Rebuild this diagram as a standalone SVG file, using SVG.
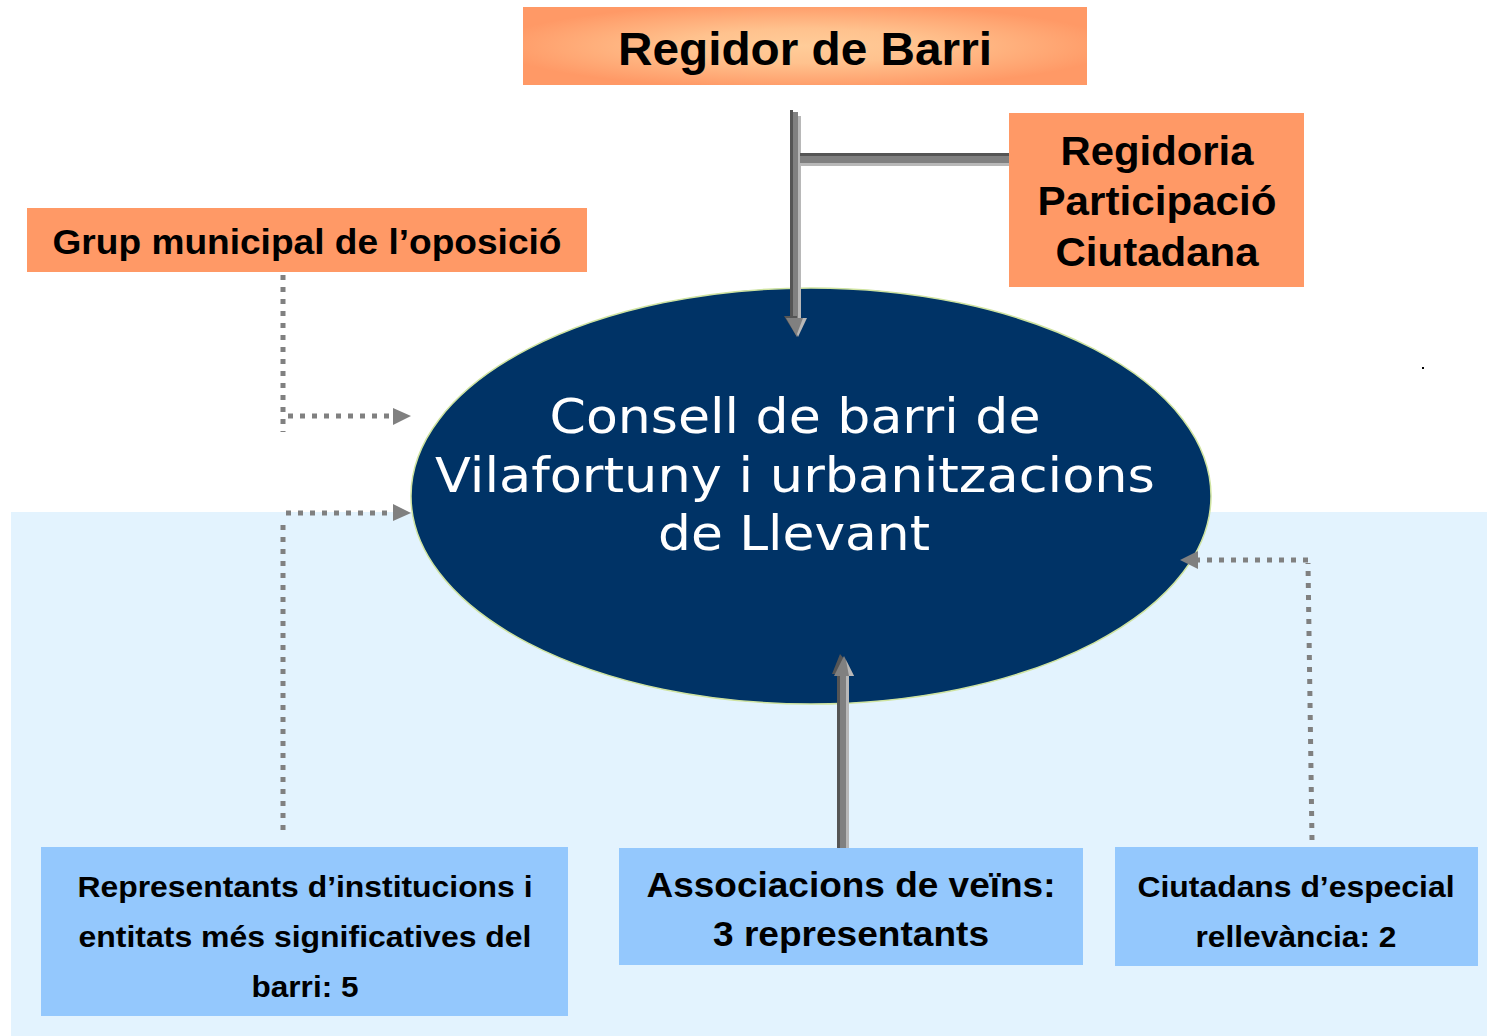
<svg xmlns="http://www.w3.org/2000/svg" width="1487" height="1036" viewBox="0 0 1487 1036">
<defs>
<radialGradient id="gOrange" cx="50%" cy="50%" r="55%">
<stop offset="0" stop-color="#FFCC99"/>
<stop offset="0.4" stop-color="#FFC28E"/>
<stop offset="1" stop-color="#FF9966"/>
</radialGradient>
</defs>
<style>
.orange{fill:#FF9966;}
.blue{fill:#94C8FD;}
.t{font-family:"Liberation Sans",Arial,sans-serif;font-weight:bold;fill:#000;text-anchor:middle;}
.e{font-family:"DejaVu Sans","Liberation Sans",sans-serif;fill:#FFFFFF;text-anchor:middle;}
.dot{fill:none;stroke:#808080;stroke-width:5;stroke-dasharray:5 7;}
.dk{fill:#555555;}
.md{fill:#808080;}
.lt{fill:#B8B8B8;}
</style>
<rect x="0" y="0" width="1487" height="1036" fill="#FFFFFF"/>
<rect x="11" y="512" width="1476" height="524" fill="#E3F3FE"/>
<rect x="1422" y="367" width="2" height="2" fill="#000000"/>

<g id="node-consell">
<ellipse cx="811" cy="496" rx="400" ry="208" fill="#003366" stroke="#CFE3A0" stroke-width="1.5"/>
<text class="e" x="795" y="433" font-size="48" textLength="491" lengthAdjust="spacingAndGlyphs">Consell de barri de</text>
<text class="e" x="795" y="492" font-size="48" textLength="720" lengthAdjust="spacingAndGlyphs">Vilafortuny i urbanitzacions</text>
<text class="e" x="794" y="550" font-size="48" textLength="272" lengthAdjust="spacingAndGlyphs">de Llevant</text>
</g>

<g id="connectors">
<rect class="dk" x="790" y="110" width="3" height="210"/>
<rect class="md" x="793" y="112" width="5" height="208"/>
<rect class="lt" x="798" y="116" width="3" height="204"/>
<polygon class="dk" points="784,316 797,316 797,337"/>
<polygon class="md" points="786,318 806,318 797,337"/>
<polygon class="lt" points="803,318 807,318 798,337 797,334"/>
<rect class="dk" x="800" y="153" width="209" height="3"/>
<rect class="md" x="800" y="156" width="209" height="7"/>
<rect class="lt" x="800" y="163" width="209" height="3"/>
<rect class="dk" x="837" y="674" width="3" height="174"/>
<rect class="md" x="840" y="674" width="6" height="174"/>
<rect class="lt" x="846" y="674" width="3" height="174"/>
<polygon class="dk" points="832,674 840,654 845,660 836,674"/>
<polygon class="md" points="834,676 854,676 844,656"/>
<polygon class="lt" points="849,676 854,676 846,660"/>
<path class="dot" d="M283,275 L283,432"/>
<path class="dot" d="M288,416 L393,416"/>
<path d="M393,408 L411,416 L393,425 Z" fill="#808080"/>
<path class="dot" d="M283,830 L283,525"/>
<path class="dot" d="M286,513 L393,513"/>
<path d="M393,504 L411,513 L393,521 Z" fill="#808080"/>
<path class="dot" d="M1312,840 L1308,563"/>
<path class="dot" d="M1308,560 L1198,560"/>
<path d="M1198,551 L1180,560 L1198,569 Z" fill="#808080"/>
</g>

<g id="node-regidor">
<rect x="523" y="7" width="564" height="78" fill="url(#gOrange)"/>
<text class="t" x="805" y="65" font-size="47" textLength="374" lengthAdjust="spacingAndGlyphs">Regidor de Barri</text>
</g>

<g id="node-regidoria">
<rect class="orange" x="1009" y="113" width="295" height="174"/>
<text class="t" x="1157" y="165" font-size="40" textLength="193" lengthAdjust="spacingAndGlyphs">Regidoria</text>
<text class="t" x="1157" y="215" font-size="40" textLength="239" lengthAdjust="spacingAndGlyphs">Participació</text>
<text class="t" x="1157" y="266" font-size="40" textLength="203" lengthAdjust="spacingAndGlyphs">Ciutadana</text>
</g>

<g id="node-grup">
<rect class="orange" x="27" y="208" width="560" height="64"/>
<text class="t" x="307" y="254" font-size="35" textLength="509" lengthAdjust="spacingAndGlyphs">Grup municipal de l’oposició</text>
</g>

<g id="node-representants">
<rect class="blue" x="41" y="847" width="527" height="169"/>
<text class="t" x="305" y="897" font-size="30" textLength="455" lengthAdjust="spacingAndGlyphs">Representants d’institucions i</text>
<text class="t" x="305" y="947" font-size="30" textLength="453" lengthAdjust="spacingAndGlyphs">entitats més significatives del</text>
<text class="t" x="305" y="997" font-size="30" textLength="107" lengthAdjust="spacingAndGlyphs">barri: 5</text>
</g>

<g id="node-associacions">
<rect class="blue" x="619" y="848" width="464" height="117"/>
<text class="t" x="851" y="897" font-size="35" textLength="409" lengthAdjust="spacingAndGlyphs">Associacions de veïns:</text>
<text class="t" x="851" y="946" font-size="35" textLength="276" lengthAdjust="spacingAndGlyphs">3 representants</text>
</g>

<g id="node-ciutadans">
<rect class="blue" x="1115" y="847" width="363" height="119"/>
<text class="t" x="1296" y="897" font-size="30" textLength="317" lengthAdjust="spacingAndGlyphs">Ciutadans d’especial</text>
<text class="t" x="1296" y="947" font-size="30" textLength="201" lengthAdjust="spacingAndGlyphs">rellevància: 2</text>
</g>
</svg>
